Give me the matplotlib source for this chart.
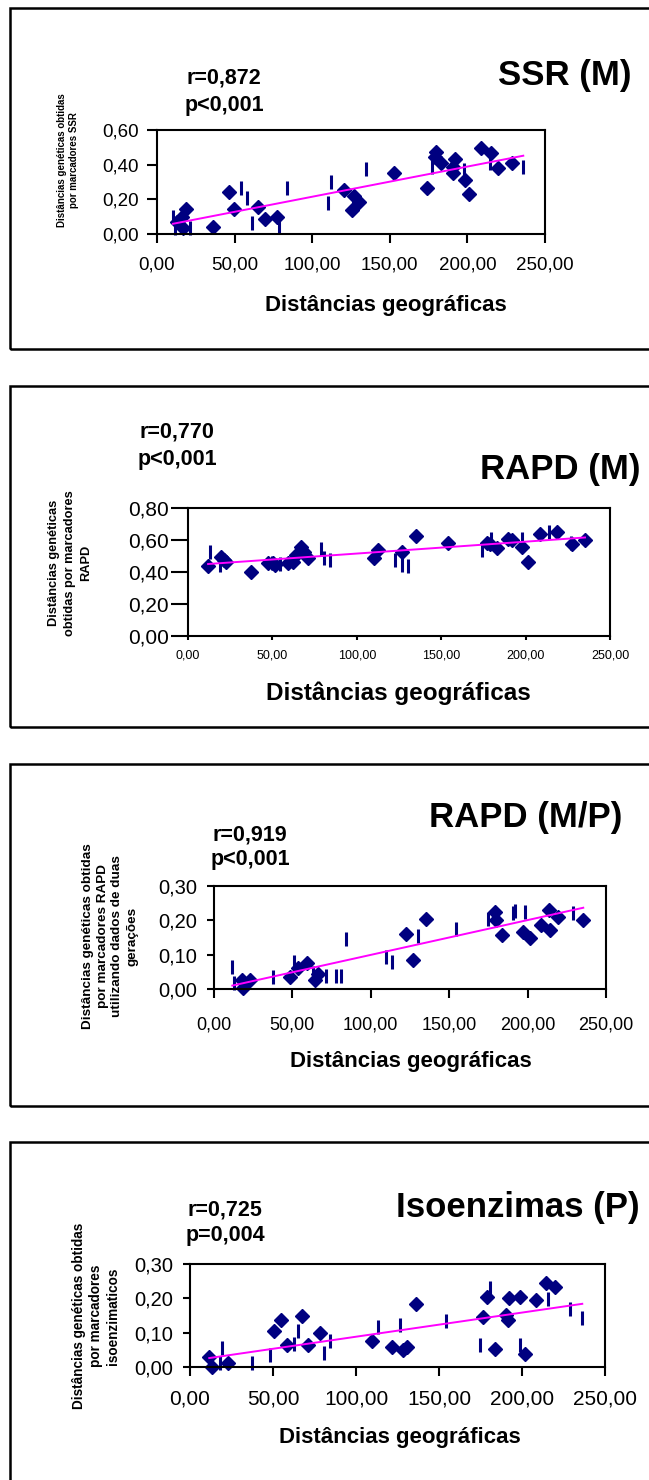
import numpy as np
import matplotlib
matplotlib.use("Agg")
import matplotlib.pyplot as plt
from matplotlib.patches import Rectangle
from matplotlib.ticker import FuncFormatter, MultipleLocator

# ---- data ----
# SSR (M)
ssr_dx = [13, 16, 16.8, 19, 36.2, 46.3, 49.6, 65, 69.4, 77.6, 120.7, 125.6, 127, 130,
          153, 174, 180, 179, 183, 190.7, 192.3, 191, 198.7, 200.9, 208.6, 215, 219.4, 229]
ssr_dy = [0.07, 0.10, 0.033, 0.142, 0.038, 0.244, 0.142, 0.158, 0.085, 0.10, 0.254, 0.138, 0.219, 0.187,
          0.35, 0.263, 0.475, 0.446, 0.408, 0.388, 0.431, 0.354, 0.31, 0.23, 0.498, 0.465, 0.383, 0.41]
ssr_bx = [10.3, 11.9, 21.1, 53.9, 58.2, 61.4, 78.7, 83.6, 109.9, 112, 134.7, 177, 198, 214.4, 236]
ssr_by = [0.10, 0.033, 0.033, 0.267, 0.21, 0.062, 0.042, 0.267, 0.177, 0.30, 0.373, 0.388, 0.369, 0.408, 0.385]
ssr_fit = (0.00174, 0.041)

# RAPD (M)
rapd_dx = [11.9, 19.4, 21.5, 22.7, 37.5, 47.4, 50.4, 51.4, 59.3, 62.3, 64.2, 67.2, 68.6, 71.1,
           110, 112.6, 126.5, 135, 153.8, 177.3, 178.9, 182.8, 189.7, 191.7, 197.6, 201.6,
           208.5, 218.8, 227.3, 235.2]
rapd_dy = [0.438, 0.496, 0.475, 0.465, 0.402, 0.454, 0.459, 0.444, 0.459, 0.465, 0.507, 0.555, 0.528, 0.486,
           0.486, 0.538, 0.528, 0.626, 0.58, 0.58, 0.576, 0.549, 0.605, 0.597, 0.555, 0.465,
           0.639, 0.653, 0.576, 0.601]
rapd_bx = [13.2, 18.8, 50, 54.7, 78.5, 80.5, 84, 122.5, 126.5, 130.4, 173.9, 179.4, 197.6, 213.8, 226.7]
rapd_by = [0.528, 0.444, 0.454, 0.45, 0.542, 0.486, 0.475, 0.475, 0.444, 0.438, 0.538, 0.605, 0.605, 0.653, 0.58]
rapd_fit = (0.000743, 0.441)

# RAPD (M/P)
rmp_dx = [17.6, 18.7, 23, 48.5, 53.8, 59.5, 64.4, 66.5, 122.4, 127.1, 135.2, 179.2, 179.9, 183.5,
          197.3, 201.5, 208.3, 213.9, 214.3, 219.6, 235.5]
rmp_dy = [0.027, 0.003, 0.027, 0.035, 0.061, 0.075, 0.027, 0.044, 0.16, 0.085, 0.203, 0.225, 0.2, 0.157,
          0.167, 0.15, 0.186, 0.231, 0.172, 0.21, 0.2]
rmp_bx = [11.7, 13, 37.4, 51.2, 62.9, 71.4, 77.8, 80.8, 84.2, 109.7, 113.7, 130.3, 154.3, 175,
          190.5, 192, 198.3, 228.7]
rmp_by = [0.063, 0.017, 0.035, 0.08, 0.046, 0.039, 0.037, 0.039, 0.145, 0.093, 0.08, 0.155, 0.174, 0.203,
          0.222, 0.228, 0.225, 0.22]
rmp_fit = (0.001013, -0.0019)

# Isoenzimas (P)
iso_dx = [11.6, 13.1, 23.1, 50.6, 54.8, 58.6, 67.3, 71.3, 78.3, 109.8, 121.5, 128.1, 130.9, 136.1,
          176.7, 179.2, 183.7, 190.4, 191.8, 192.4, 198.8, 201.8, 208.4, 214.5, 219.9]
iso_dy = [0.029, 0.0, 0.012, 0.105, 0.137, 0.065, 0.15, 0.063, 0.099, 0.075, 0.058, 0.05, 0.058, 0.184,
          0.145, 0.203, 0.052, 0.152, 0.137, 0.2, 0.203, 0.039, 0.195, 0.246, 0.234]
iso_bx = [19.1, 18, 37.1, 48.2, 65.3, 62.7, 80.7, 84.3, 113.5, 126.5, 154.2, 174.7, 180.7, 198.8,
          215.9, 228.9, 236.3]
iso_by = [0.055, 0.012, 0.012, 0.036, 0.104, 0.068, 0.041, 0.075, 0.116, 0.123, 0.133, 0.063, 0.229, 0.065,
          0.197, 0.168, 0.144]
iso_fit = (0.000703, 0.0179)

W, H = 649, 1480
NAVY = "#000080"
SANS = ["Liberation Sans", "DejaVu Sans"]

fig = plt.figure(figsize=(W / 100, H / 100), dpi=100)
fig.patch.set_facecolor("white")


def fx(x):
    return x / W


def fy(y):
    return 1 - y / H


def comma(v, _):
    return f"{v:.2f}".replace(".", ",")


panels = [
    dict(box=(8, 349), ax=(157, 130, 545, 234), ymax=0.6, ystep=0.2,
         xt=13.5, xlen=6.5, xpad=9.5, yt=13.5, ylen=7, ypad=6,
         dx=ssr_dx, dy=ssr_dy, bx=ssr_bx, by=ssr_by, fit=ssr_fit,
         title="SSR (M)", tpos=(632, 75), rp=("r=0,872", "p<0,001"), rpos=(224, 78, 105),
         ylab="Distâncias genéticas obtidas\npor marcadores SSR", ylpos=(68, 160), ylfs=7, ylsp=1.2,
         xlpos=(386, 305), xlfs=16),
    dict(box=(386, 727), ax=(188, 508, 610, 636), ymax=0.8, ystep=0.2,
         xt=9, xlen=3, xpad=6.5, yt=15, ylen=12, ypad=2,
         dx=rapd_dx, dy=rapd_dy, bx=rapd_bx, by=rapd_by, fit=rapd_fit,
         title="RAPD (M)", tpos=(640, 470), rp=("r=0,770", "p<0,001"), rpos=(177, 432, 460),
         ylab="Distâncias genéticas\nobtidas por marcadores\nRAPD", ylpos=(70, 563), ylfs=9.2, ylsp=1.45,
         xlpos=(398, 693), xlfs=17.5),
    dict(box=(764, 1106), ax=(214, 886, 606, 989), ymax=0.3, ystep=0.1,
         xt=13, xlen=6.5, xpad=13, yt=14.5, ylen=5, ypad=7,
         dx=rmp_dx, dy=rmp_dy, bx=rmp_bx, by=rmp_by, fit=rmp_fit,
         title="RAPD (M/P)", tpos=(622, 818), rp=("r=0,919", "p<0,001"), rpos=(250, 835, 860),
         ylab="Distâncias genéticas obtidas\npor marcadores RAPD\nutilizando dados de duas\ngerações",
         ylpos=(110, 936), ylfs=9.7, ylsp=1.3, xlpos=(411, 1062), xlfs=16),
    dict(box=(1142, 1520), ax=(190, 1264, 605, 1367), ymax=0.3, ystep=0.1,
         xt=15, xlen=6.5, xpad=10, yt=14.5, ylen=5, ypad=7,
         dx=iso_dx, dy=iso_dy, bx=iso_bx, by=iso_by, fit=iso_fit,
         title="Isoenzimas (P)", tpos=(640, 1208), rp=("r=0,725", "p=0,004"), rpos=(225, 1210, 1236),
         ylab="Distâncias genéticas obtidas\npor marcadores\nisoenzimaticos", ylpos=(96, 1316), ylfs=9.8,
         ylsp=1.3, xlpos=(400, 1437), xlfs=16),
]

for p in panels:
    top, bot = p["box"]
    fig.add_artist(Rectangle((fx(10), fy(bot)), fx(700), (bot - top) / H,
                             transform=fig.transFigure, fill=False, lw=1.8, ec="black"))

    x0, y0, x1, y1 = p["ax"]
    ax = fig.add_axes([fx(x0), fy(y1), (x1 - x0) / W, (y1 - y0) / H])
    ax.set_xlim(0, 250)
    ax.set_ylim(0, p["ymax"])
    ax.xaxis.set_major_locator(MultipleLocator(50))
    ax.yaxis.set_major_locator(MultipleLocator(p["ystep"]))
    ax.xaxis.set_major_formatter(FuncFormatter(comma))
    ax.yaxis.set_major_formatter(FuncFormatter(comma))
    ax.tick_params(axis="x", direction="out", length=p["xlen"], width=1.5,
                   labelsize=p["xt"], pad=p["xpad"])
    ax.tick_params(axis="y", direction="out", length=p["ylen"], width=1.5,
                   labelsize=p["yt"], pad=p["ypad"])
    for lab in ax.get_xticklabels() + ax.get_yticklabels():
        lab.set_family(SANS)
    for s in ax.spines.values():
        s.set_linewidth(1.5)

    ax.plot(p["bx"], p["by"], ls="none", marker="|", ms=10, mew=2.2, color=NAVY, clip_on=False)
    ax.plot(p["dx"], p["dy"], ls="none", marker="D", ms=7, color=NAVY, mec=NAVY, clip_on=False)
    allx = np.array(p["dx"] + p["bx"])
    xs = np.array([allx.min(), allx.max()])
    m, b = p["fit"]
    ax.plot(xs, m * xs + b, color="#FF00FF", lw=1.4)

    tx, ty = p["tpos"]
    fig.text(fx(tx), fy(ty), p["title"], ha="right", va="center", fontsize=25,
             fontweight="bold", family=SANS)
    rx, ry1, ry2 = p["rpos"]
    fig.text(fx(rx), fy(ry1), p["rp"][0], ha="center", va="center", fontsize=15.5,
             fontweight="bold", family=SANS)
    fig.text(fx(rx), fy(ry2), p["rp"][1], ha="center", va="center", fontsize=15.5,
             fontweight="bold", family=SANS)
    lx, ly = p["ylpos"]
    fig.text(fx(lx), fy(ly), p["ylab"], ha="center", va="center", rotation=90,
             fontsize=p["ylfs"], fontweight="bold", family=SANS, linespacing=p["ylsp"],
             multialignment="center")
    xx, xy = p["xlpos"]
    fig.text(fx(xx), fy(xy), "Distâncias geográficas", ha="center", va="center",
             fontsize=p["xlfs"], fontweight="bold", family=SANS)

fig.savefig("out.png", dpi=100)
